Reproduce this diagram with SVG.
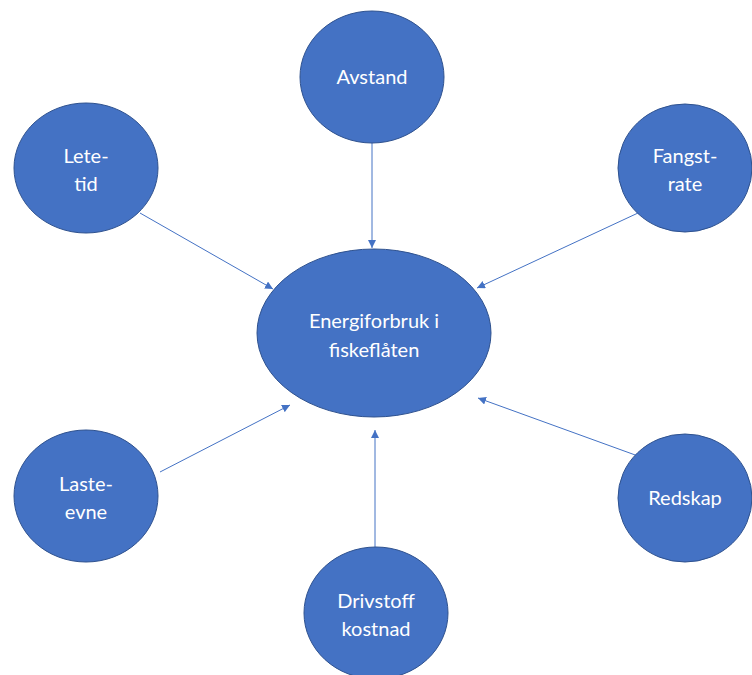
<svg xmlns="http://www.w3.org/2000/svg" width="752" height="675" viewBox="0 0 752 675">
<style>
.n{fill:#4472C4;stroke:#2F528F;stroke-width:1}
.t{font-family:Lato,"Liberation Sans",sans-serif;font-size:20px;fill:#fff;text-anchor:middle}
.c{stroke:#4472C4;stroke-width:1;fill:none;marker-end:url(#ah)}
</style>
<defs>
<marker id="ah" viewBox="0 0 10 10" refX="10" refY="5" markerWidth="8" markerHeight="8" markerUnits="userSpaceOnUse" orient="auto">
<path d="M0,0 L10,5 L0,10 z" fill="#4472C4"/>
</marker>
</defs>
<rect width="752" height="675" fill="#fff"/>
<g id="connectors">
<line class="c" x1="372" y1="143" x2="372" y2="248"/>
<line class="c" x1="140" y1="213" x2="273" y2="289"/>
<line class="c" x1="638" y1="213" x2="477" y2="288"/>
<line class="c" x1="160" y1="472" x2="290" y2="405"/>
<line class="c" x1="638" y1="456" x2="478" y2="398"/>
<line class="c" x1="375" y1="549" x2="375" y2="430"/>
</g>
<g id="center">
<ellipse class="n" cx="374" cy="333" rx="117" ry="84"/>
<text class="t" x="374" y="328">Energiforbruk i</text>
<text class="t" x="374" y="357">fiskeflåten</text>
</g>
<g id="avstand">
<ellipse class="n" cx="372" cy="77" rx="72" ry="66"/>
<text class="t" x="372" y="84">Avstand</text>
</g>
<g id="letetid">
<ellipse class="n" cx="86" cy="168" rx="72" ry="65"/>
<text class="t" x="86" y="163">Lete-</text>
<text class="t" x="86" y="191">tid</text>
</g>
<g id="fangstrate">
<ellipse class="n" cx="685" cy="168" rx="67" ry="64"/>
<text class="t" x="685" y="163">Fangst-</text>
<text class="t" x="685" y="191">rate</text>
</g>
<g id="lasteevne">
<ellipse class="n" cx="86" cy="496" rx="72" ry="66"/>
<text class="t" x="86" y="491">Laste-</text>
<text class="t" x="86" y="519">evne</text>
</g>
<g id="redskap">
<ellipse class="n" cx="685" cy="498" rx="67" ry="64"/>
<text class="t" x="685" y="505">Redskap</text>
</g>
<g id="drivstoff">
<ellipse class="n" cx="376" cy="613" rx="72" ry="66"/>
<text class="t" x="376" y="608">Drivstoff</text>
<text class="t" x="376" y="636">kostnad</text>
</g>
</svg>
